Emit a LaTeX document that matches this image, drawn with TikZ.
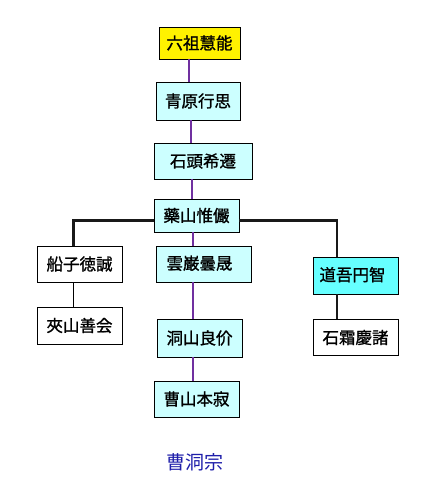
\documentclass[tikz,border=0pt]{standalone}
\usepackage{fontspec}
\newfontfamily\jp[FakeBold=1.2]{Noto Sans CJK JP}
\newfontfamily\jpt{Noto Sans CJK JP}
\definecolor{lcyan}{HTML}{CCFFFF}
\definecolor{mcyan}{HTML}{66FFFF}
\definecolor{pline}{HTML}{7030A0}
\definecolor{ttl}{HTML}{1E1EAA}
\begin{document}
\begin{tikzpicture}[x=1pt,y=-1pt,
  box/.style={draw=black,line width=0.9pt,fill=lcyan,inner sep=0pt,font=\jp\fontsize{16.5}{16.5}\selectfont},
  pl/.style={draw=pline,line width=1.8pt},
  bl/.style={draw=black!90,line width=2pt},
]
\fill[white] (0,0) rectangle (430,480);
\useasboundingbox (0,0) rectangle (430,480);
\node[box,fill=yellow,minimum width=81pt,minimum height=32pt] (liuzu) at (199.5,43) {六祖慧能};
\node[box,minimum width=84pt,minimum height=38pt] (seigen) at (198,101) {青原行思};
\node[box,minimum width=98pt,minimum height=36pt] (sekito) at (203,161) {石頭希遷};
\node[box,minimum width=85pt,minimum height=33pt] (yaku) at (196.5,215.5) {藥山惟儼};
\node[box,fill=white,minimum width=85pt,minimum height=36pt] (funa) at (79.5,264) {船子徳誠};
\node[box,fill=white,minimum width=85pt,minimum height=37pt] (kassan) at (79.5,325.5) {夾山善会};
\node[box,minimum width=95pt,minimum height=36pt] (ungan) at (203.5,264) {\hspace*{-8pt}\raisebox{3pt}{雲巌曇晟}};
\node[box,fill=mcyan,minimum width=85pt,minimum height=37pt] (dogo) at (355.5,275.5) {\hspace*{-6pt}\raisebox{3pt}{道吾円智}};
\node[box,fill=white,minimum width=85pt,minimum height=36pt] (sekiso) at (355.5,337.5) {石霜慶諸};
\node[box,minimum width=85pt,minimum height=38pt] (tozan) at (199.5,338) {洞山良价};
\node[box,minimum width=85pt,minimum height=36pt] (sozan) at (196.5,399) {曹山本寂};
\node[font=\jpt\fontsize{19}{19}\selectfont,text=ttl] (title) at (195,462) {曹洞宗};
% purple lineage
\draw[pl] ([xshift=-10.5pt]liuzu.south) -- ([xshift=-10.5pt]liuzu.south |- seigen.north);
\draw[pl] ([xshift=-7pt]seigen.south) -- ([xshift=-7pt]seigen.south |- sekito.north);
\draw[pl] ([xshift=-11pt]sekito.south) -- ([xshift=-11pt]sekito.south |- yaku.north);
\draw[pl] ([xshift=-3.8pt]yaku.south) -- ([xshift=-3.8pt]yaku.south |- ungan.north);
\draw[pl] ([xshift=-10.8pt]ungan.south) -- ([xshift=-10.8pt]ungan.south |- tozan.north);
\draw[pl] ([xshift=-6.8pt]tozan.south) -- ([xshift=-6.8pt]tozan.south |- sozan.north);
% black branches
\draw[bl,line width=2.6pt] ([yshift=-5pt]yaku.west) -| ([xshift=-6pt]funa.north);
\draw[bl,line width=2.6pt] ([yshift=-5pt]yaku.east) -| ([xshift=-18.5pt]dogo.north);
\draw[black,line width=0.8pt] ([xshift=-6pt]funa.south) -- ([xshift=-6pt]funa.south |- kassan.north);
\draw[bl] ([xshift=-18.5pt]dogo.south) -- ([xshift=-18.5pt]dogo.south |- sekiso.north);
\end{tikzpicture}
\end{document}
